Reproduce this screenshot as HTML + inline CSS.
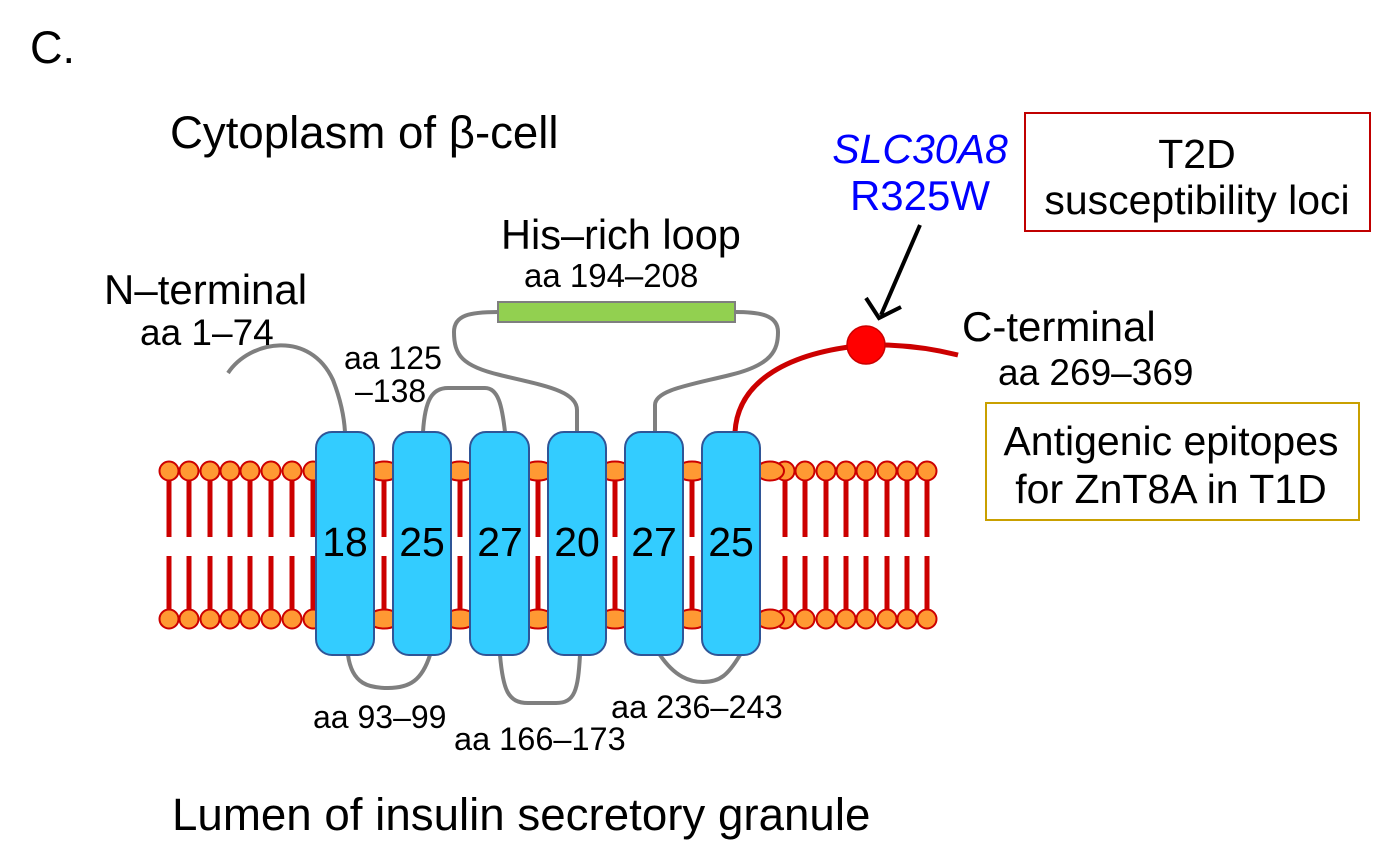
<!DOCTYPE html>
<html><head><style>
html,body{margin:0;padding:0;background:#fff;}
svg{display:block;font-family:"Liberation Sans",Arial,sans-serif;}
</style></head><body>
<svg width="1381" height="868" viewBox="0 0 1381 868" xmlns="http://www.w3.org/2000/svg">
<text x="30" y="63" font-size="45">C.</text>
<text x="170" y="148" font-size="45.6">Cytoplasm of β-cell</text>
<text x="172" y="830" font-size="45.7">Lumen of insulin secretory granule</text>

<g stroke="#cc0000" stroke-width="5">
<path d="M169,478V537M169,556V612M189,478V537M189,556V612M210,478V537M210,556V612M230,478V537M230,556V612M250,478V537M250,556V612M271,478V537M271,556V612M292,478V537M292,556V612M313,478V537M313,556V612M384,478V537M384,556V612M460,478V537M460,556V612M538,478V537M538,556V612M615,478V537M615,556V612M692,478V537M692,556V612M785,478V537M785,556V612M805,478V537M805,556V612M826,478V537M826,556V612M846,478V537M846,556V612M866,478V537M866,556V612M887,478V537M887,556V612M907,478V537M907,556V612M927,478V537M927,556V612" fill="none"/>
</g>
<g fill="#ff9933" stroke="#cc0000" stroke-width="2">
<circle cx="169" cy="471" r="9.5"/><circle cx="189" cy="471" r="9.5"/><circle cx="210" cy="471" r="9.5"/><circle cx="230" cy="471" r="9.5"/><circle cx="250" cy="471" r="9.5"/><circle cx="271" cy="471" r="9.5"/><circle cx="292" cy="471" r="9.5"/><circle cx="313" cy="471" r="9.5"/>
<circle cx="785" cy="471" r="9.5"/><circle cx="805" cy="471" r="9.5"/><circle cx="826" cy="471" r="9.5"/><circle cx="846" cy="471" r="9.5"/><circle cx="866" cy="471" r="9.5"/><circle cx="887" cy="471" r="9.5"/><circle cx="907" cy="471" r="9.5"/><circle cx="927" cy="471" r="9.5"/>
<circle cx="169" cy="619" r="9.5"/><circle cx="189" cy="619" r="9.5"/><circle cx="210" cy="619" r="9.5"/><circle cx="230" cy="619" r="9.5"/><circle cx="250" cy="619" r="9.5"/><circle cx="271" cy="619" r="9.5"/><circle cx="292" cy="619" r="9.5"/><circle cx="313" cy="619" r="9.5"/>
<circle cx="785" cy="619" r="9.5"/><circle cx="805" cy="619" r="9.5"/><circle cx="826" cy="619" r="9.5"/><circle cx="846" cy="619" r="9.5"/><circle cx="866" cy="619" r="9.5"/><circle cx="887" cy="619" r="9.5"/><circle cx="907" cy="619" r="9.5"/><circle cx="927" cy="619" r="9.5"/>
<ellipse cx="384" cy="471" rx="16" ry="9.5"/><ellipse cx="460" cy="471" rx="16" ry="9.5"/><ellipse cx="538" cy="471" rx="16" ry="9.5"/><ellipse cx="615" cy="471" rx="16" ry="9.5"/><ellipse cx="692" cy="471" rx="16" ry="9.5"/><ellipse cx="770" cy="471" rx="14" ry="9.5"/>
<ellipse cx="384" cy="619" rx="16" ry="9.5"/><ellipse cx="460" cy="619" rx="16" ry="9.5"/><ellipse cx="538" cy="619" rx="16" ry="9.5"/><ellipse cx="615" cy="619" rx="16" ry="9.5"/><ellipse cx="692" cy="619" rx="16" ry="9.5"/><ellipse cx="770" cy="619" rx="14" ry="9.5"/>
</g>

<g fill="none" stroke="#7f7f7f" stroke-width="4">
<path d="M228,373 C250,340 310,330 333,380 C340,398 344,415 345,432"/>
<path d="M423,432 C425,400 432,388 448,388 L485,388 C498,388 502,405 505,432"/>
<path d="M577,432 L577,410 C577,390 540,385 500,375 C462,366 454,355 454,332 C454,315 470,312 498,312"/>
<path d="M655,432 L655,405 C655,390 690,385 730,375 C772,365 778,350 778,332 C778,315 760,312 735,312"/>
<path d="M348,655 C352,685 370,688 388,688 C410,688 422,680 430,655"/>
<path d="M500,655 C503,690 508,703 528,703 L556,703 C575,703 578,690 580,655"/>
<path d="M660,655 C675,677 690,682 703,682 C720,682 728,675 740,655"/>
</g>
<path d="M735,432 C738,380 790,352 866,345 C900,344 930,348 958,355" fill="none" stroke="#cc0000" stroke-width="5"/>
<rect x="498" y="302" width="237" height="20" fill="#92d050" stroke="#7f7f7f" stroke-width="2"/>
<circle cx="866" cy="345" r="19" fill="#ff0000" stroke="#cc0000" stroke-width="1.5"/>
<path d="M920,225 L881,315 M866,298 L879,318 L901,307" fill="none" stroke="#000" stroke-width="4"/>

<g fill="#33ccff" stroke="#2f5597" stroke-width="2">
<rect x="316" y="432" width="58" height="223" rx="16"/>
<rect x="393" y="432" width="58" height="223" rx="16"/>
<rect x="470" y="432" width="59" height="223" rx="16"/>
<rect x="548" y="432" width="58" height="223" rx="16"/>
<rect x="625" y="432" width="58" height="223" rx="16"/>
<rect x="702" y="432" width="58" height="223" rx="16"/>
</g>
<g font-size="41" text-anchor="middle">
<text x="345" y="556">18</text><text x="422" y="556">25</text><text x="500" y="556">27</text><text x="577" y="556">20</text><text x="654" y="556">27</text><text x="731" y="556">25</text>
</g>

<text x="104" y="304" font-size="42">N–terminal</text>
<text x="140" y="345" font-size="37">aa 1–74</text>
<text x="501" y="249" font-size="41.5">His–rich loop</text>
<text x="962" y="341" font-size="42">C-terminal</text>
<text x="524" y="287" font-size="33">aa 194–208</text>
<text x="344" y="369" font-size="32">aa 125</text>
<text x="355" y="402" font-size="32">–138</text>
<text x="313" y="728" font-size="32">aa 93–99</text>
<text x="454" y="750" font-size="32.5">aa 166–173</text>
<text x="611" y="718" font-size="32.5">aa 236–243</text>
<text x="998" y="385" font-size="37">aa 269–369</text>
<text x="920" y="163" font-size="41" fill="#0000ff" font-style="italic" text-anchor="middle">SLC30A8</text>
<text x="920" y="210" font-size="42" fill="#0000ff" text-anchor="middle">R325W</text>

<rect x="1025" y="113" width="345" height="118" fill="#fff" stroke="#c00000" stroke-width="2"/>
<text x="1197" y="168" font-size="41" text-anchor="middle">T2D</text>
<text x="1197" y="214" font-size="41" text-anchor="middle">susceptibility loci</text>
<rect x="986" y="403" width="373" height="117" fill="#fff" stroke="#c9a000" stroke-width="2"/>
<text x="1171" y="455" font-size="41" text-anchor="middle">Antigenic epitopes</text>
<text x="1171" y="503" font-size="41" text-anchor="middle">for ZnT8A in T1D</text>
</svg>
</body></html>
